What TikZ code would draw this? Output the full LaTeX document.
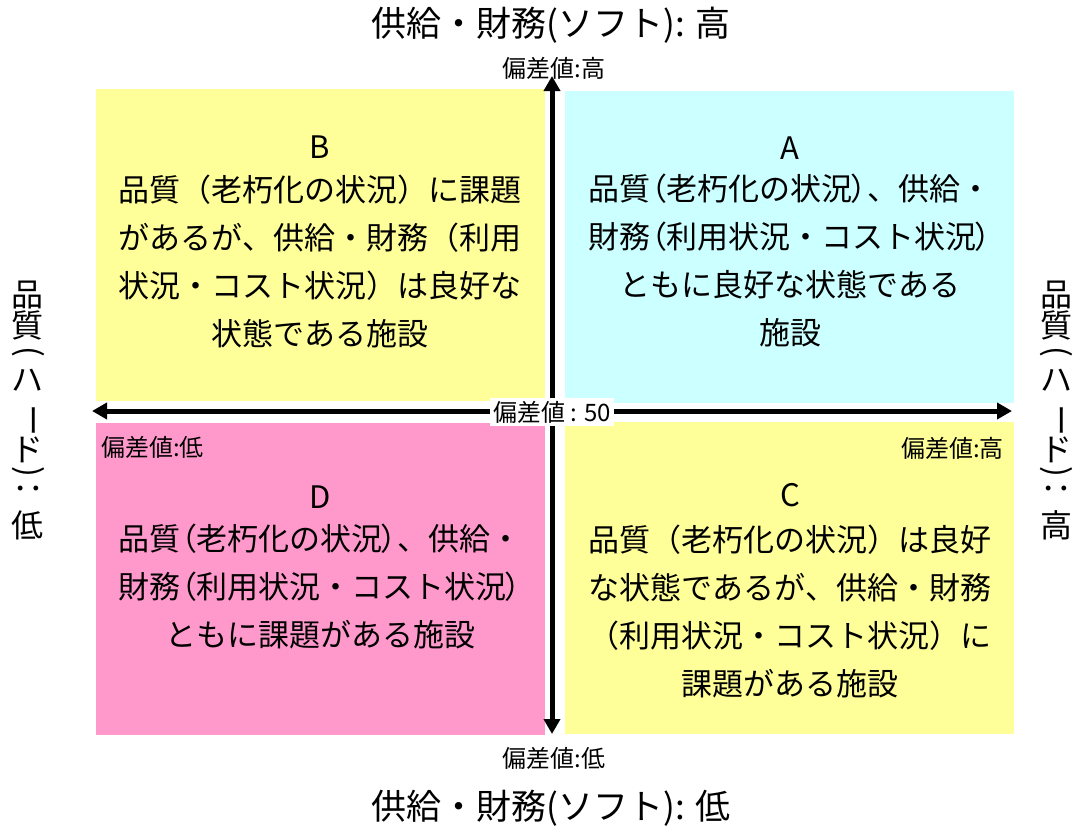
\documentclass[tikz,border=0pt]{standalone}
\usepackage{fontspec}
\setmainfont{Noto Sans CJK JP}
\usetikzlibrary{arrows.meta}
\definecolor{qyellow}{HTML}{FFFF99}
\definecolor{qcyan}{HTML}{CCFFFF}
\definecolor{qpink}{HTML}{FF99CC}
\newcommand\narrowp[1]{{\addfontfeature{RawFeature=+palt}#1}}
\begin{document}
\begin{tikzpicture}[x=1pt,y=-1pt,
  quad/.style={draw=none,inner sep=0,outer sep=0,minimum width=449pt,minimum height=312pt},
  body/.style={font=\fontsize{31}{48}\selectfont,align=center,inner sep=0},
  letter/.style={font=\fontsize{31}{36}\selectfont,inner sep=0},
  small/.style={font=\fontsize{24}{28}\selectfont,inner sep=0},
  axislabel/.style={font=\fontsize{35}{40}\selectfont,inner sep=0},
  vchar/.style={font=\fontsize{32}{38}\selectfont,inner sep=0},
  axisline/.style={line width=5pt,{Triangle[length=15pt,width=16pt]}-{Triangle[length=15pt,width=16pt]}}]
\useasboundingbox (0,0) rectangle (1076,830);
% quadrants
\node[quad,fill=qyellow] (qB) at (320.5,245) {};
\node[quad,fill=qcyan]   (qA) at (789.5,247) {};
\node[quad,fill=qpink]   (qD) at (320.5,578.5) {};
\node[quad,fill=qyellow] (qC) at (789.5,577.5) {};
% letters
\node[letter] (lB) at (320,147) {B};
\node[letter] (lA) at (790,148) {A};
\node[letter] (lD) at (320,497) {D};
\node[letter] (lC) at (790,495) {C};
% body texts
\node[body] (tB) at (320,261) {品質（老朽化の状況）に課題\\があるが、供給・財務（利用\\状況・コスト状況）は良好な\\状態である施設};
\node[body] (tA) at (790,260) {品質\narrowp{（}老朽化の状況\narrowp{）}、供給・\\財務\narrowp{（}利用状況・コスト状況\narrowp{）}\\ともに良好な状態である\\施設};
\node[body] (tD) at (320,587) {品質\narrowp{（}老朽化の状況\narrowp{）}、供給・\\財務\narrowp{（}利用状況・コスト状況\narrowp{）}\\ともに課題がある施設};
\node[body] (tC) at (790,611.5) {品質（老朽化の状況）は良好\\な状態であるが、供給・財務\\（利用状況・コスト状況）に\\課題がある施設};
% axes
\coordinate (axL) at (92,411);
\coordinate (axR) at (1012,411);
\coordinate (axT) at (552,76);
\coordinate (axB) at (552,734);
\draw[axisline] (axL) -- (axR);
\draw[axisline] (axT) -- (axB);
% small labels
\node[small,fill=white,inner xsep=3pt,inner ysep=3pt] (s50) at (552,412) {偏差値 : 50};
\node[small] (sTop) at (554,68) {偏差値:高};
\node[small] (sBot) at (554,758) {偏差値:低};
\node[small,anchor=west] (sD) at (101,447) {偏差値:低};
\node[small,anchor=east] (sC) at (1004,448) {偏差値:高};
% top / bottom axis labels
\node[axislabel] (topL) at (551,25) {供給・財務(ソフト): 高};
\node[axislabel] (botL) at (551,808) {供給・財務(ソフト): 低};
% left vertical label
\node[vchar] (l1) at (28,295) {品};
\node[vchar] (l2) at (28,325) {質};
\node[vchar,rotate=-90] (l3) at (28,352) {(};
\node[vchar] (l4) at (28,380) {ハ};
\node[vchar,rotate=-90] (l5) at (28,420) {ー};
\node[vchar] (l6) at (28,450) {ド};
\node[vchar,rotate=-90] (l7) at (28,472) {)};
\node[vchar,rotate=-90] (l8) at (28,488) {：};
\node[vchar] (l9) at (28,525) {低};
% right vertical label
\node[vchar] (r1) at (1056,295) {品};
\node[vchar] (r2) at (1056,325) {質};
\node[vchar,rotate=-90] (r3) at (1056,352) {(};
\node[vchar] (r4) at (1056,380) {ハ};
\node[vchar,rotate=-90] (r5) at (1056,420) {ー};
\node[vchar] (r6) at (1056,450) {ド};
\node[vchar,rotate=-90] (r7) at (1056,472) {)};
\node[vchar,rotate=-90] (r8) at (1056,488) {：};
\node[vchar] (r9) at (1056,525) {高};
\end{tikzpicture}
\end{document}
